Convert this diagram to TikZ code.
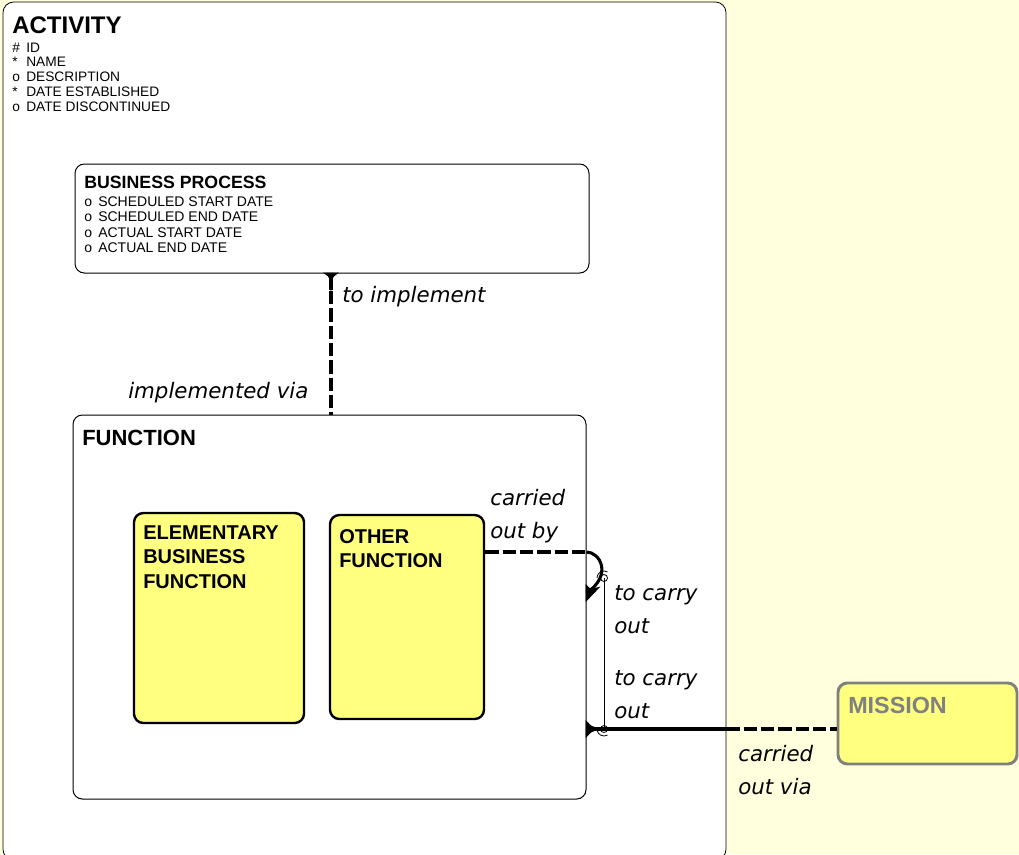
\documentclass[tikz,border=0pt]{standalone}
\usepackage{fontspec}
\setmainfont{Liberation Sans}
\newfontfamily\lblfont{DejaVu Sans}
\usetikzlibrary{fit}
\definecolor{bgy}{HTML}{FFFFDD}
\definecolor{boxy}{HTML}{FFFF80}
\definecolor{gry}{HTML}{808080}
\tikzset{
  ent/.style={draw=black, line width=0.75pt, rounded corners=7pt, inner sep=0pt},
  subent/.style={draw=black, line width=1.8pt, fill=boxy, rounded corners=7pt, inner sep=0pt},
  txt/.style={anchor=base west, inner sep=0pt},
  ttl/.style={txt, font=\bfseries\fontsize{13.3}{15}\selectfont},
  attr/.style={txt, font=\fontsize{10.3}{12}\selectfont},
  lbl/.style={txt, font=\lblfont\itshape\fontsize{16}{19}\selectfont},
  rel/.style={line width=2.3pt, black},
  reld/.style={rel, dash pattern=on 10pt off 3pt},
  foot/.style={line width=1.2pt, black, fill=black},
  arcl/.style={line width=0.6pt, black}
}
\newcommand{\atr}[2]{\makebox[10.5pt][l]{#1}#2}
\begin{document}
\begin{tikzpicture}[x=0.75pt,y=-0.75pt]
\useasboundingbox (0,0) rectangle (1019,854);
\clip (0,0) rectangle (1019,854);
\fill[bgy] (0,0) rectangle (1019,854);

% ACTIVITY
\node[ent, fill=white, line width=0.6pt, rounded corners=8pt, fit={(3,2)(726,860)}] (act) {};
\node[txt, font=\bfseries\fontsize{18}{20}\selectfont] (tact) at (12,33) {ACTIVITY};
\node[attr] (a1) at (12,52) {\atr{\#}{ID}};
\node[attr] (a2) at (12,66.8) {\atr{*}{NAME}};
\node[attr] (a3) at (12,81.5) {\atr{o}{DESCRIPTION}};
\node[attr] (a4) at (12,96.3) {\atr{*}{DATE ESTABLISHED}};
\node[attr] (a5) at (12,111) {\atr{o}{DATE DISCONTINUED}};

% BUSINESS PROCESS
\node[ent, fill=white, fit={(75,164)(589,273)}] (bp) {};
\node[ttl] (tbp) at (84,188) {BUSINESS PROCESS};
\node[attr, font=\fontsize{10.5}{12}\selectfont] (b1) at (84,206.5) {\atr{o}{SCHEDULED START DATE}};
\node[attr, font=\fontsize{10.5}{12}\selectfont] (b2) at (84,221.8) {\atr{o}{SCHEDULED END DATE}};
\node[attr, font=\fontsize{10.5}{12}\selectfont] (b3) at (84,237) {\atr{o}{ACTUAL START DATE}};
\node[attr, font=\fontsize{10.5}{12}\selectfont] (b4) at (84,252.3) {\atr{o}{ACTUAL END DATE}};

% FUNCTION
\node[ent, fill=white, fit={(73,415)(586,799)}] (fn) {};
\node[txt, font=\bfseries\fontsize{16.5}{19}\selectfont] (tfn) at (82,445) {FUNCTION};

\node[subent, fit={(134,513)(304,723)}] (ebf) {};
\node[txt, font=\bfseries\fontsize{15}{18}\selectfont] (te1) at (143,539) {ELEMENTARY};
\node[txt, font=\bfseries\fontsize{15}{18}\selectfont] (te2) at (143,563.5) {BUSINESS};
\node[txt, font=\bfseries\fontsize{15}{18}\selectfont] (te3) at (143,588) {FUNCTION};

\node[subent, fit={(330,515)(484,719)}] (of) {};
\node[txt, font=\bfseries\fontsize{15}{18}\selectfont] (to1) at (339,543) {OTHER};
\node[txt, font=\bfseries\fontsize{15}{18}\selectfont] (to2) at (339,567) {FUNCTION};

% MISSION
\node[subent, draw=gry, line width=2.2pt, fit={(838,683)(1017,764)}] (ms) {};
\node[txt, text=gry, font=\bfseries\fontsize{17.5}{20}\selectfont] (tms) at (848,713) {MISSION};

% relationship BP - FUNCTION
\coordinate (x1) at (331,0);
\coordinate (ptop) at (x1 |- bp.south);
\coordinate (pbot) at (x1 |- fn.north);
\draw[reld] (ptop) -- (pbot);
\draw[line width=2.3pt] (ptop) -- ([shift={(0,16)}]ptop);
\filldraw[foot] ([shift={(-5.5,0)}]ptop) .. controls ([shift={(-1,3)}]ptop) .. ([shift={(0,13)}]ptop)
   .. controls ([shift={(1,3)}]ptop) .. ([shift={(5.5,0)}]ptop) -- cycle;
\node[lbl] (l1) at (342,302) {to implement};
\node[lbl] (l2) at (128,398) {implemented via};

% relationship OTHER FUNCTION - FUNCTION
\coordinate (y552) at (0,552);
\coordinate (y593) at (0,593);
\coordinate (y729) at (0,729);
\coordinate (r0) at (of.east |- y552);
\coordinate (r1) at (fn.east |- y552);
\coordinate (r2) at (fn.east |- y593);
\draw[reld] (r0) -- (r1);
\draw[rel] (r1) .. controls (600,552) and (613,575) .. (r2);
\filldraw[foot] (fn.east |- 0,586) .. controls (590,590) .. (598,588) .. controls (592,594) .. (fn.east |- 0,600) -- cycle;
\node[lbl] (l3) at (490,505) {carried};
\node[lbl] (l4) at (490,538) {out by};
\node[lbl] (l5) at (614,600) {to carry};
\node[lbl] (l6) at (614,633) {out};

% MISSION - FUNCTION
\coordinate (m0) at (fn.east |- y729);
\coordinate (m1) at (act.east |- y729);
\coordinate (m2) at (ms.west |- y729);
\draw[rel] (m0) -- (m1);
\draw[reld] (m1) -- (m2);
\filldraw[foot] (fn.east |- 0,722) .. controls (591,727) .. (599,729) .. controls (591,731) .. (fn.east |- 0,736) -- cycle;
\node[lbl] (l7) at (614,685) {to carry};
\node[lbl] (l8) at (614,718) {out};
\node[lbl] (l9) at (738,761) {carried};
\node[lbl] (l10) at (738,794) {out via};

% exclusive arc
\coordinate (c1) at (604,578);
\coordinate (c2) at (604,729);
\draw[arcl] (c1) -- (c2);
\draw[arcl] (c1) circle (3.5);
\draw[arcl] (c2) circle (3.5);
\draw[arcl] (c1) ++(-7,0) arc[start angle=180, end angle=300, radius=7];
\draw[arcl] (c2) ++(3.5,6.06) arc[start angle=60, end angle=170, radius=7];
\end{tikzpicture}
\end{document}
